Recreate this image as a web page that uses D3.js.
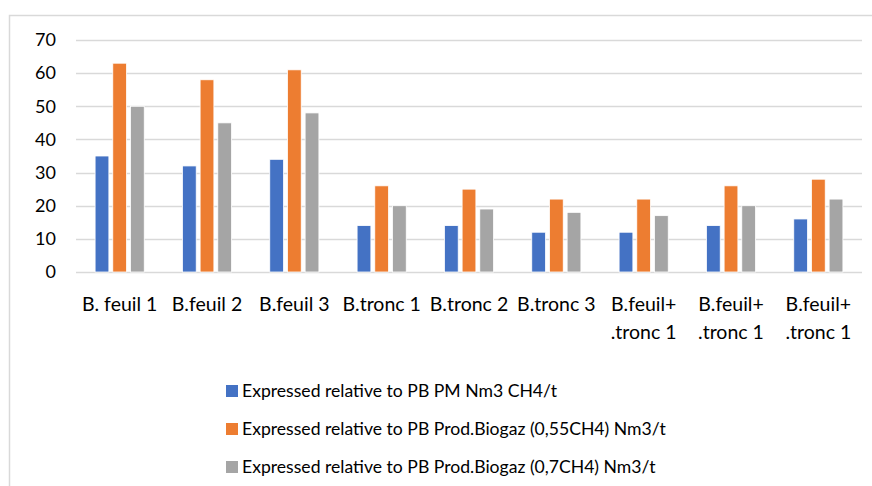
<!DOCTYPE html>
<html>
<head>
<meta charset="utf-8">
<script src="https://cdn.jsdelivr.net/npm/d3@7"></script>
<style>
  html, body { margin: 0; padding: 0; background: #fff; }
  svg { display: block; font-family: Lato, "Open Sans", sans-serif; }
</style>
</head>
<body>
<svg id="chart" width="872" height="486"></svg>
<script>
// Sample categories (two-line labels split on "\n")
const categories = [
  "B. feuil 1", "B.feuil 2", "B.feuil 3",
  "B.tronc 1", "B.tronc 2", "B.tronc 3",
  "B.feuil+\n.tronc 1", "B.feuil+\n.tronc 1", "B.feuil+\n.tronc 1"
];

const seriesNames = [
  "Expressed relative to PB PM Nm3 CH4/t",
  "Expressed relative to PB Prod.Biogaz (0,55CH4) Nm3/t",
  "Expressed relative to PB Prod.Biogaz (0,7CH4) Nm3/t"
];

const pmValues      = [35, 32, 34, 14, 14, 12, 12, 14, 16];
const biogaz055     = [63, 58, 61, 26, 25, 22, 22, 26, 28];
const biogaz07      = [50, 45, 48, 20, 19, 18, 17, 20, 22];

const seriesColors = ["#4472c4", "#ed7d31", "#a5a5a5"];
const yTicks = [0, 10, 20, 30, 40, 50, 60, 70];

const seriesValues = [pmValues, biogaz055, biogaz07];

const svg = d3.select("#chart");
const W = 872, H = 486;

// chart frame
svg.append("path")
  .attr("d", `M9.5,${H} V15.5 H${W}`)
  .attr("fill", "none")
  .attr("stroke", "#d9d9d9")
  .attr("stroke-width", 1.5);

const plot = { left: 76, right: 862, top: 40, bottom: 272 };

const x = d3.scaleBand()
  .domain(d3.range(categories.length))
  .range([plot.left, plot.right]);

const xSeries = d3.scaleBand()
  .domain(d3.range(seriesNames.length))
  .range([0, x.bandwidth()])
  .paddingInner(0.22)
  .paddingOuter(1.08);

const y = d3.scaleLinear().domain([0, 70]).range([plot.bottom, plot.top]);

// gridlines
svg.append("g")
  .selectAll("line")
  .data(yTicks)
  .join("line")
  .attr("x1", plot.left)
  .attr("x2", plot.right)
  .attr("y1", d => Math.round(y(d)) + 0.5)
  .attr("y2", d => Math.round(y(d)) + 0.5)
  .attr("stroke", "#d9d9d9")
  .attr("stroke-width", 1.5);

// y axis labels
const yAxis = d3.axisLeft(y).tickValues(yTicks).tickSize(0).tickPadding(0);
const yAxisG = svg.append("g")
  .attr("transform", `translate(56,0)`)
  .call(yAxis);
yAxisG.select(".domain").remove();
yAxisG.selectAll("text")
  .attr("font-family", "Lato, sans-serif")
  .attr("font-size", 18)
  .attr("fill", "#000");

// bars
const groups = svg.append("g")
  .selectAll("g")
  .data(categories)
  .join("g")
  .attr("transform", (d, i) => `translate(${x(i)},0)`);

groups.selectAll("rect")
  .data((d, i) => seriesValues.map((vals, s) => ({ s, v: vals[i] })))
  .join("rect")
  .attr("x", d => xSeries(d.s))
  .attr("width", xSeries.bandwidth())
  .attr("y", d => y(d.v))
  .attr("height", d => y(0) - y(d.v))
  .attr("fill", d => seriesColors[d.s])
  .attr("stroke", "#fff")
  .attr("stroke-width", 0.8);

// category labels
const xLabels = svg.append("g")
  .selectAll("text")
  .data(categories)
  .join("text")
  .attr("x", (d, i) => x(i) + x.bandwidth() / 2)
  .attr("y", 311)
  .attr("text-anchor", "middle")
  .attr("font-size", 19.5)
  .attr("fill", "#000");

xLabels.selectAll("tspan")
  .data(d => d.split("\n"))
  .join("tspan")
  .attr("x", function () { return d3.select(this.parentNode).attr("x"); })
  .attr("dy", (d, i) => i === 0 ? 0 : 28)
  .text(d => d);

// legend
const legend = svg.append("g")
  .selectAll("g")
  .data(seriesNames)
  .join("g")
  .attr("transform", (d, i) => `translate(226,${391 + i * 38})`);

legend.append("rect")
  .attr("x", 0)
  .attr("y", -6)
  .attr("width", 12)
  .attr("height", 12)
  .attr("fill", (d, i) => seriesColors[i]);

legend.append("text")
  .attr("x", 16)
  .attr("y", 0)
  .attr("dy", "0.35em")
  .attr("font-size", 17.6)
  .attr("fill", "#000")
  .text(d => d);
</script>
</body>
</html>
